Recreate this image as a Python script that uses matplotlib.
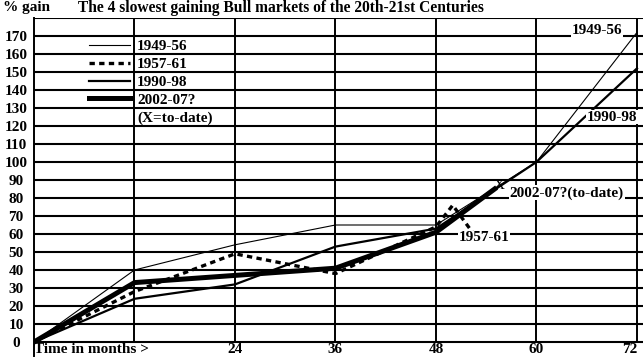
import matplotlib.pyplot as plt
from matplotlib.lines import Line2D

# dane (miesiące, % zysku)
months_4956 = [0, 12, 24, 36, 48, 60, 72]
gain_4956 = [0, 40, 54, 65, 65, 100, 172]

months_5761 = [0, 12, 24, 36, 48, 50, 52.5]
gain_5761 = [0, 28, 49, 38, 64, 76, 60]

months_9098 = [0, 12, 24, 36, 48, 60, 72]
gain_9098 = [0, 24, 32, 53, 63, 100, 152]

months_0207 = [0, 12, 24, 36, 48, 55]
gain_0207 = [0, 33, 37, 41, 61, 85]

x_ticks = [0, 12, 24, 36, 48, 60, 72]
x_labels = ["Time in months >", "", "24", "36", "48", "60", "72"]
y_ticks = list(range(0, 181, 10))
y_labels = [str(v) for v in range(0, 171, 10)] + [""]

FONT = "Liberation Serif"
FS = 11
GRID = "black"

fig = plt.figure(figsize=(6.43, 3.6), dpi=100)
ax = fig.add_axes([34 / 643, 0.01, 609 / 643, 338.4 / 360])

ax.set_xlim(0, 72.72)
ax.set_ylim(-8, 180)

# siatka - poziome linie rysowane wprost, pionowe od 0 do 180
ax.hlines(y_ticks, 0, 72.72, color=GRID, lw=1.5, zorder=1)
ax.vlines(x_ticks[1:], 0, 180, color=GRID, lw=1.4, zorder=1)

ax.plot(months_4956, gain_4956, color="black", lw=0.8, label="1949-56", zorder=3)
ax.plot(months_5761, gain_5761, color="black", lw=2.4, dashes=(1.6, 1.3),
        label="1957-61", zorder=3)
ax.plot(months_9098, gain_9098, color="black", lw=1.6, label="1990-98", zorder=3)
ax.plot(months_0207, gain_0207, color="black", lw=3.6, label="2002-07?", zorder=4)

# znacznik "X" na końcu 2002-07
ax.text(months_0207[-1] - 0.1, gain_0207[-1] + 2, "X", family=FONT, fontsize=FS,
        ha="left", va="center", zorder=5)

ax.set_xticks(x_ticks)
ax.set_xticklabels(x_labels, family=FONT, fontsize=FS, fontweight="bold")
xlabs = ax.xaxis.get_ticklabels()
xlabs[0].set_horizontalalignment("left")
xlabs[-1].set_horizontalalignment("right")
ax.tick_params(axis="x", length=0, pad=-9.5)
ax.set_yticks(y_ticks)
ax.set_yticklabels(y_labels, family=FONT, fontsize=FS, fontweight="bold")
for lab in ax.yaxis.get_ticklabels():
    lab.set_horizontalalignment("center")
ax.tick_params(axis="y", length=0, pad=13)

for side in ["right", "bottom", "top"]:
    ax.spines[side].set_visible(False)
ax.spines["left"].set_linewidth(1.4)
ax.spines["left"].set_color(GRID)

handles, labels = ax.get_legend_handles_labels()
handles.append(Line2D([], [], color="none"))
labels.append("(X=to-date)")
ax.legend(handles, labels, loc="upper left", bbox_to_anchor=(0.09, 0.936),
          frameon=False, borderpad=0, borderaxespad=0, handlelength=2.7,
          handletextpad=0.45, labelspacing=0.27,
          prop={"family": FONT, "size": FS, "weight": "bold"})

bbox = dict(facecolor="white", edgecolor="none", pad=0.5)
ax.text(64.2, 173, "1949-56", family=FONT, fontsize=FS, fontweight="bold",
        ha="left", va="center", bbox=bbox, zorder=6)
ax.text(66.0, 125, "1990-98", family=FONT, fontsize=FS, fontweight="bold",
        ha="left", va="center", bbox=bbox, zorder=6)
ax.text(56.8, 82.8, "2002-07?(to-date)", family=FONT, fontsize=FS, fontweight="bold",
        ha="left", va="center", bbox=bbox, zorder=6)
ax.text(50.7, 57.8, "1957-61", family=FONT, fontsize=FS, fontweight="bold",
        ha="left", va="center", bbox=bbox, zorder=6)

fig.text(3 / 643, 1 - 8 / 360, "% gain", family=FONT, fontsize=FS,
         fontweight="bold", ha="left", va="center")
fig.text(78 / 643, 1 - 8 / 360,
         "The 4 slowest gaining Bull markets of the 20th-21st Centuries",
         family=FONT, fontsize=11.2, fontweight="bold", ha="left", va="center")

fig.savefig("out.png", dpi=100)
